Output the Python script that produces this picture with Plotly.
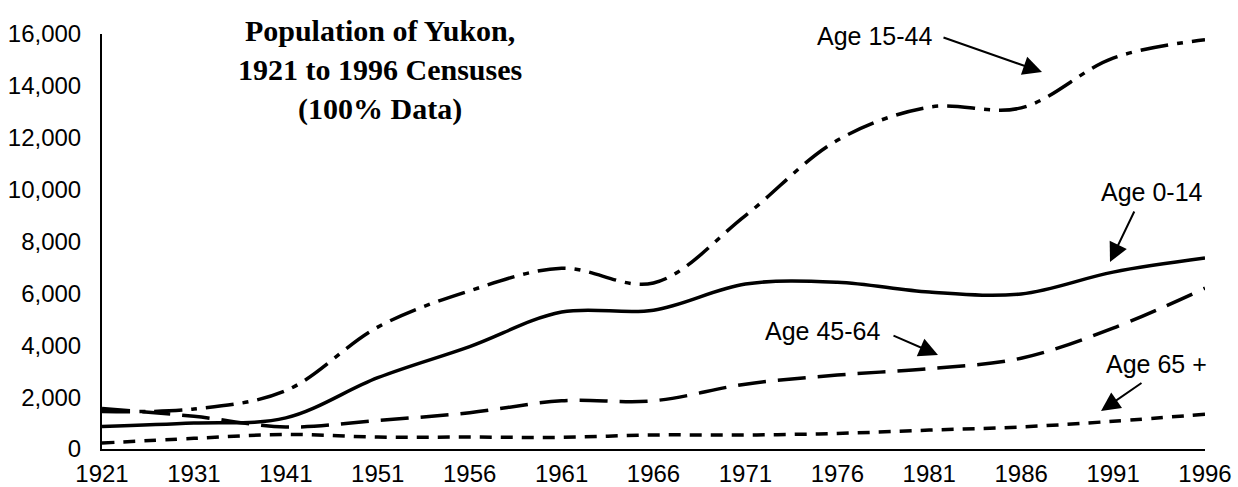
import plotly.graph_objects as go

years = ["1921", "1931", "1941", "1951", "1956", "1961", "1966",
         "1971", "1976", "1981", "1986", "1991", "1996"]
age_0_14 = [870, 1000, 1200, 2750, 3950, 5280, 5350, 6360, 6430, 6050, 5980, 6820, 7360]
age_15_44 = [1450, 1540, 2250, 4700, 6100, 6970, 6400, 9000, 11900, 13180, 13150, 15070, 15780]
age_45_64 = [1560, 1260, 850, 1100, 1400, 1860, 1860, 2500, 2850, 3100, 3500, 4660, 6200]
age_65_plus = [230, 410, 560, 460, 460, 450, 540, 540, 600, 730, 850, 1070, 1340]
y_ticks = [0, 2000, 4000, 6000, 8000, 10000, 12000, 14000, 16000]

W, H = 1238, 487
ML, MR, MT, MB = 102, 33, 34, 38
PW, PH = W - ML - MR, H - MT - MB


def px(x):
    return (x - ML) / PW


def py(y):
    return (H - MB - y) / PH


fig = go.Figure()
series = [
    ("Age 0-14", age_0_14, "solid"),
    ("Age 15-44", age_15_44, "28px,9px,6px,9px"),
    ("Age 45-64", age_45_64, "28px,12px"),
    ("Age 65 +", age_65_plus, "12px,9px"),
]
for name, vals, dash in series:
    fig.add_trace(go.Scatter(
        x=years, y=vals, name=name, mode="lines",
        line=dict(color="black", width=3.5, dash=dash, shape="spline", smoothing=1.0),
        showlegend=False, cliponaxis=False,
    ))

annotations = []
# title
annotations.append(dict(
    text="<b>Population of Yukon,<br>1921 to 1996 Censuses<br>(100% Data)</b>",
    xref="paper", yref="paper", x=px(380), y=py(12), xanchor="center", yanchor="top",
    showarrow=False, align="center",
    font=dict(family="Liberation Serif", size=30, color="black"),
))
labels = [
    ("Age 15-44", 874, 36),
    ("Age 0-14", 1152, 192),
    ("Age 45-64", 822, 331),
    ("Age 65 +", 1156, 364),
]
for t, cx, cy in labels:
    annotations.append(dict(
        text=t, xref="paper", yref="paper", x=px(cx), y=py(cy),
        xanchor="center", yanchor="middle", showarrow=False,
        font=dict(family="Liberation Sans", size=25, color="black"),
    ))
arrows = [
    ((942, 37), (1042, 72)),
    ((1135, 210), (1110, 262)),
    ((892, 335), (938, 355)),
    ((1143, 382), (1101, 411)),
]
for (tx, ty), (hx, hy) in arrows:
    annotations.append(dict(
        text="", xref="paper", yref="paper", x=px(hx), y=py(hy),
        ax=tx - hx, ay=ty - hy, axref="pixel", ayref="pixel",
        showarrow=True, arrowhead=2, arrowsize=1.9, arrowwidth=2, arrowcolor="black",
    ))

fig.update_layout(
    width=W, height=H,
    margin=dict(l=ML, r=MR, t=MT, b=MB, autoexpand=False),
    paper_bgcolor="white", plot_bgcolor="white",
    font=dict(family="Liberation Sans", size=24, color="black"),
    annotations=annotations,
)
fig.update_xaxes(
    type="category", range=[0, len(years) - 1], showgrid=False, zeroline=False,
    showline=True, linecolor="black", linewidth=2, ticks="",
    ticklabelstandoff=2, automargin=False,
)
fig.update_yaxes(
    range=[0, 16000], tickvals=y_ticks, tickformat=",", showgrid=False, zeroline=False,
    showline=True, linecolor="black", linewidth=2, ticks="",
    ticklabelstandoff=14, automargin=False,
)

fig.write_html("out.html", config={"displayModeBar": False},
               post_script="document.body.style.margin='0';")
